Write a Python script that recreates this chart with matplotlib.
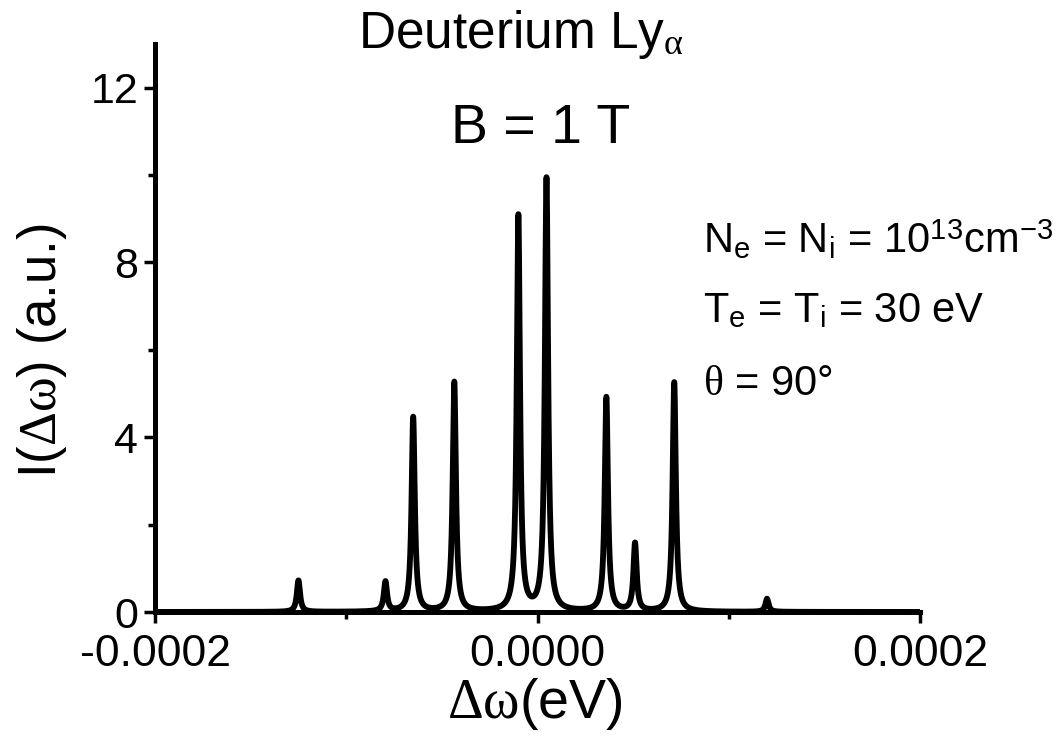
import numpy as np
import matplotlib.pyplot as plt

plt.rcParams['font.family'] = ['Liberation Sans', 'DejaVu Sans']
plt.rcParams['mathtext.fontset'] = 'custom'
plt.rcParams['mathtext.rm'] = 'Liberation Serif'
plt.rcParams['mathtext.it'] = 'Liberation Serif:italic'
plt.rcParams['mathtext.sf'] = 'Liberation Sans'

# Zeeman components (eV, a.u.)
peak_pos = [-1.25e-4, -7.95e-5, -6.5e-5, -4.35e-5, -1.0e-5,
            4.7e-6, 3.6e-5, 5.1e-5, 7.15e-5, 1.2e-4]
peak_height = [0.72, 0.68, 4.45, 5.25, 9.05, 9.9, 4.9, 1.55, 5.25, 0.3]
peak_hwhm = 1.0e-6

xticks = [-0.0002, 0.0, 0.0002]
xtick_labels = ['-0.0002', '0.0000', '0.0002']
yticks = [0, 4, 8, 12]

x = np.linspace(-2e-4, 2e-4, 40001)
y = np.zeros_like(x)
for c, h in zip(peak_pos, peak_height):
    y += h * peak_hwhm**2 / ((x - c)**2 + peak_hwhm**2)

fig = plt.figure(figsize=(10.64, 7.38), dpi=100)
ax = fig.add_axes([155/1064, 1-612/738, 765/1064, 568/738])
ax.plot(x, y, color='black', lw=4.2, solid_joinstyle='round')

ax.set_xlim(-2e-4, 2e-4)
ax.set_ylim(0, 13)
for s in ['top', 'right']:
    ax.spines[s].set_visible(False)
for s in ['left', 'bottom']:
    ax.spines[s].set_linewidth(3.6)

ax.set_xticks(xticks)
ax.set_xticklabels(xtick_labels)
ax.set_xticks([-0.0001, 0.0001], minor=True)
ax.set_yticks(yticks)
ax.set_yticks([2, 6, 10], minor=True)
ax.tick_params(which='major', direction='out', length=8, width=2.5)
ax.tick_params(which='minor', direction='out', length=5, width=2.5)
ax.tick_params(axis='x', labelsize=32, pad=8)
ax.tick_params(axis='y', labelsize=31, pad=4)

ax.set_xlabel(r'$\mathrm{\Delta\omega}$(eV)', fontsize=40)
ax.xaxis.set_label_coords((535 - 155) / 765, -0.112)
ax.set_ylabel(r'I($\mathrm{\Delta\omega}$) (a.u.)', fontsize=38)
ax.yaxis.set_label_coords(-0.112, 0.46)

fig.text(521/1064, 1-48/738, r'Deuterium Ly$_{\mathrm{\alpha}}$', fontsize=37,
         ha='center', va='baseline')
fig.text(541/1064, 1-143/738, 'B = 1 T', fontsize=40, ha='center', va='baseline')

fig.text(703/1064, 1-253/738,
         r'N$_\mathsf{e}$ = N$_\mathsf{i}$ = 10$^\mathsf{13}$cm$^\mathsf{-3}$',
         fontsize=30, va='baseline')
fig.text(703/1064, 1-322/738, r'T$_\mathsf{e}$ = T$_\mathsf{i}$ = 30 eV',
         fontsize=30, va='baseline')
fig.text(703/1064, 1-395/738, r'$\mathrm{\theta}$ = 90°', fontsize=30, va='baseline')

fig.savefig('out.png', dpi=100)
